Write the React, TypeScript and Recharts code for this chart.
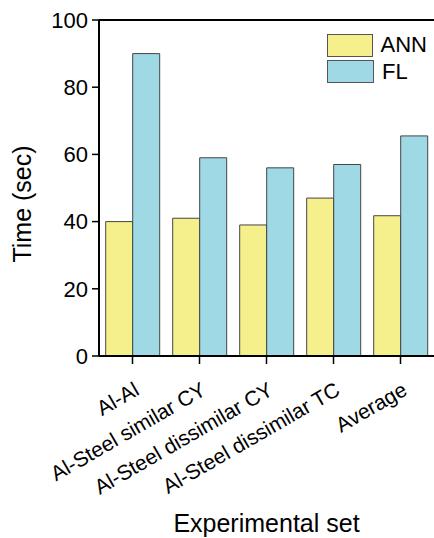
import React from 'react'
import {
  BarChart,
  Bar,
  XAxis,
  YAxis,
  Legend,
  ReferenceLine,
} from 'recharts'

const categories = [
  'Al-Al',
  'Al-Steel similar CY',
  'Al-Steel dissimilar CY',
  'Al-Steel dissimilar TC',
  'Average',
]
const annTimes = [40, 41, 39, 47, 41.75]
const flTimes = [90, 59, 56, 57, 65.5]
const yTicks = [0, 20, 40, 60, 80, 100]

const data = categories.map((set, i) => ({ set, ANN: annTimes[i], FL: flTimes[i] }))

const FONT = '"Liberation Sans", Arial, Helvetica, sans-serif'

function XTick({ x, y, payload }: { x?: number; y?: number; payload?: { value: string } }) {
  return (
    <g transform={`translate(${(x ?? 0) + 8},${(y ?? 0) + 28})`}>
      <text transform="rotate(-30)" textAnchor="end" fontSize={21} fontFamily={FONT} fill="#000">
        {payload?.value}
      </text>
    </g>
  )
}

function YTitle({ viewBox }: { viewBox?: { x: number; y: number; width: number; height: number } }) {
  if (!viewBox) return null
  const x = viewBox.x + 31
  const y = viewBox.y + viewBox.height / 2 + 16
  return (
    <text x={x} y={y} transform={`rotate(-90, ${x}, ${y})`} textAnchor="middle" fontSize={25} fontFamily={FONT} fill="#000">
      Time (sec)
    </text>
  )
}

function XTitle({ viewBox }: { viewBox?: { x: number; y: number; width: number; height: number } }) {
  if (!viewBox) return null
  return (
    <text x={viewBox.x + viewBox.width / 2} y={viewBox.y + 176} textAnchor="middle" fontSize={25} fontFamily={FONT} fill="#000">
      Experimental set
    </text>
  )
}

function LegendBox({ payload }: { payload?: { value: string; color: string }[] }) {
  return (
    <div style={{ fontFamily: FONT }}>
      {(payload ?? []).map((p) => (
        <div key={p.value} style={{ display: 'flex', alignItems: 'center', height: 26.5 }}>
          <div style={{ width: 45, height: 21, background: p.color, border: '1.5px solid #555' }} />
          <span style={{ marginLeft: 8, fontSize: 22, color: '#000', lineHeight: '22px' }}>{p.value}</span>
        </div>
      ))}
    </div>
  )
}

export default function App() {
  return (
    <div style={{ position: 'absolute', left: 0, top: 0, background: '#fff' }}>
      <BarChart
        width={434}
        height={538}
        data={data}
        margin={{ top: 20, right: 0, bottom: 0, left: 0 }}
        barCategoryGap="10%"
        barGap={0}
      >
        <XAxis
          dataKey="set"
          interval={0}
          height={182}
          tick={<XTick />}
          tickSize={8}
          tickLine={{ stroke: '#000', strokeWidth: 1.5 }}
          axisLine={{ stroke: '#000', strokeWidth: 2 }}
          label={<XTitle />}
        />
        <YAxis
          width={99}
          domain={[0, 100]}
          ticks={yTicks}
          tickSize={7}
          tickMargin={4}
          tick={{ fill: '#000', fontSize: 22, fontFamily: FONT }}
          tickLine={{ stroke: '#000', strokeWidth: 1.5 }}
          axisLine={{ stroke: '#000', strokeWidth: 2 }}
          label={<YTitle />}
        />
        <ReferenceLine y={100} stroke="#000" strokeWidth={2} />
        <Legend
          verticalAlign="middle"
          align="center"
          layout="horizontal"
          content={<LegendBox />}
          wrapperStyle={{ left: 327, top: 32, width: 100 }}
        />
        <Bar dataKey="ANN" fill="#F5F08C" stroke="#444" strokeWidth={1} isAnimationActive={false} />
        <Bar dataKey="FL" fill="#9FD9E5" stroke="#444" strokeWidth={1} isAnimationActive={false} />
      </BarChart>
    </div>
  )
}
